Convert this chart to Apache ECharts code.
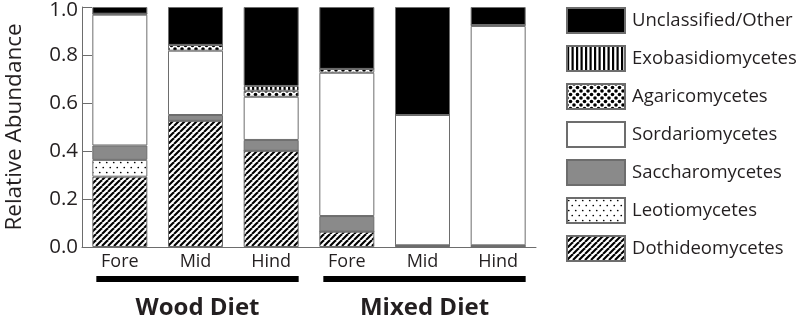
<!DOCTYPE html>
<html>
<head>
<meta charset="utf-8">
<title>Relative Abundance</title>
<script src="https://cdn.jsdelivr.net/npm/echarts@6/dist/echarts.min.js"></script>
<style>
    html, body { margin: 0; padding: 0; background: #fff; }
    #chart { width: 800px; height: 321px; }
</style>
</head>
<body>
<div id="chart"></div>
<script>
// --- Données ---
const categories = ['Fore', 'Mid', 'Hind', 'Fore', 'Mid', 'Hind'];
const groups = ['Wood Diet', 'Mixed Diet'];
const yTicks = [0, 0.2, 0.4, 0.6, 0.8, 1.0];

const dothideomycetes = [0.293, 0.526, 0.401, 0.064, 0.007, 0.004];
const leotiomycetes = [0.070, 0, 0, 0, 0, 0];
const saccharomycetes = [0.060, 0.024, 0.045, 0.065, 0, 0.003];
const sordariomycetes = [0.545, 0.268, 0.180, 0.597, 0.543, 0.914];
const agaricomycetes = [0.004, 0.024, 0.025, 0.016, 0, 0.004];
const exobasidiomycetes = [0, 0, 0.020, 0, 0, 0];
const unclassified = [0.028, 0.158, 0.329, 0.258, 0.450, 0.075];

const FONT = '"Open Sans", sans-serif';
const INK = '#231f20';
const EDGE = '#6d6d6d';

/**
 * Crée un motif répété à partir d'un petit canvas
 */
function pattern(w, h, draw) {
    const c = document.createElement('canvas');
    c.width = w;
    c.height = h;
    const ctx = c.getContext('2d');
    ctx.fillStyle = '#fff';
    ctx.fillRect(0, 0, w, h);
    ctx.fillStyle = '#000';
    ctx.strokeStyle = '#000';
    draw(ctx);
    return { image: c, repeat: 'repeat' };
}

function dot(ctx, x, y, r) {
    ctx.beginPath();
    ctx.arc(x, y, r, 0, Math.PI * 2);
    ctx.fill();
}

const fills = {
    diagonal: pattern(6, 6, ctx => {
        ctx.lineWidth = 2.1;
        [-6, 0, 6].forEach(k => {
            ctx.beginPath();
            ctx.moveTo(k, 6);
            ctx.lineTo(k + 6, 0);
            ctx.stroke();
        });
    }),
    sparseDots: pattern(7, 10, ctx => {
        dot(ctx, 1.75, 2.5, 0.85);
        dot(ctx, 5.25, 7.5, 0.85);
    }),
    denseDots: pattern(7, 7, ctx => {
        [[0, 0], [7, 0], [0, 7], [7, 7], [3.5, 3.5]].forEach(p => dot(ctx, p[0], p[1], 1.8));
    }),
    vertical: pattern(9, 4, ctx => {
        ctx.fillRect(0, 0, 2.2, 4);
        ctx.fillRect(4.5, 0, 2.2, 4);
    })
};

const layers = [
    { name: 'Dothideomycetes', data: dothideomycetes, color: fills.diagonal },
    { name: 'Leotiomycetes', data: leotiomycetes, color: fills.sparseDots },
    { name: 'Saccharomycetes', data: saccharomycetes, color: '#8a8a8a' },
    { name: 'Sordariomycetes', data: sordariomycetes, color: '#ffffff' },
    { name: 'Agaricomycetes', data: agaricomycetes, color: fills.denseDots },
    { name: 'Exobasidiomycetes', data: exobasidiomycetes, color: fills.vertical },
    { name: 'Unclassified/Other', data: unclassified, color: '#000000' }
];

function settings() {
    return {
        animation: false,
        textStyle: { fontFamily: FONT, color: INK },
        grid: { left: 82, right: 264, top: 7, bottom: 74, outerBoundsMode: 'none' },
        legend: {
            orient: 'vertical',
            left: 566,
            top: 7,
            padding: 0,
            itemWidth: 58,
            itemHeight: 25,
            itemGap: 11,
            selectedMode: false,
            icon: 'rect',
            data: layers.map(l => l.name).reverse(),
            textStyle: { fontSize: 18.5, color: INK, fontFamily: FONT, padding: [0, 0, 0, 2] }
        },
        xAxis: {
            type: 'category',
            data: categories,
            axisLine: { lineStyle: { color: EDGE, width: 1 } },
            axisTick: { inside: true, length: 6, lineStyle: { color: EDGE } },
            axisLabel: { fontSize: 18, color: INK, margin: 6, fontFamily: FONT }
        },
        yAxis: {
            type: 'value',
            min: yTicks[0],
            max: yTicks[yTicks.length - 1],
            interval: 0.2,
            name: 'Relative Abundance',
            nameLocation: 'middle',
            nameRotate: 90,
            nameGap: 56,
            nameTextStyle: { fontSize: 22.5, color: INK, fontFamily: FONT },
            splitLine: { show: false },
            axisLine: { show: true, lineStyle: { color: EDGE, width: 1 } },
            axisTick: { show: true, inside: true, length: 10, lineStyle: { color: EDGE } },
            axisLabel: {
                fontSize: 20.5, color: INK, margin: 4, fontFamily: FONT,
                // le libellé du haut est un peu descendu pour rester visible
                formatter: v => v === 1 ? '{top|' + v.toFixed(1) + '}' : v.toFixed(1),
                rich: {
                    top: { fontSize: 20.5, fontFamily: FONT, color: INK, padding: [7, 0, 0, 0] }
                }
            }
        },
        series: layers.map(l => ({
            name: l.name,
            type: 'bar',
            stack: 'total',
            barWidth: 55,
            data: l.data,
            itemStyle: { color: l.color, borderColor: EDGE, borderWidth: 1 },
            emphasis: { disabled: true }
        }))
    };
}

const chart = echarts.init(document.getElementById('chart'), null, { renderer: 'canvas' });
chart.setOption(settings());

// --- Barres de groupe sous l'axe ---
function groupGraphics() {
    const half = 27.5;
    const elements = [];
    groups.forEach((g, i) => {
        const first = chart.convertToPixel({ xAxisIndex: 0 }, i * 3);
        const last = chart.convertToPixel({ xAxisIndex: 0 }, i * 3 + 2);
        const x0 = first - half + 4;
        const x1 = last + half;
        elements.push({
            type: 'rect',
            shape: { x: x0, y: 276, width: x1 - x0, height: 6 },
            style: { fill: '#000' }
        });
        elements.push({
            type: 'text',
            x: (x0 + x1) / 2,
            y: 320,
            style: {
                text: g,
                fontFamily: FONT,
                fontSize: 24,
                fontWeight: 'bold',
                fill: INK,
                align: 'center',
                verticalAlign: 'bottom'
            }
        });
    });
    return elements;
}

chart.setOption({ graphic: groupGraphics() });

window.addEventListener('resize', function () {
    chart.resize();
    chart.setOption({ graphic: groupGraphics() });
});
</script>
</body>
</html>
